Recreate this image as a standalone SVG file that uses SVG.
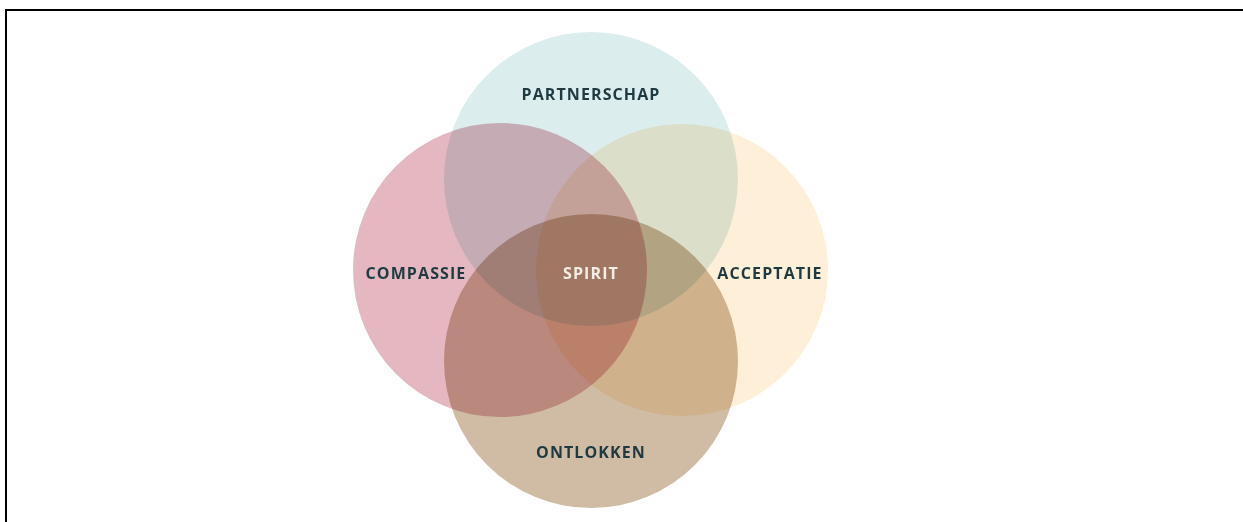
<svg xmlns="http://www.w3.org/2000/svg" width="1243" height="522" viewBox="0 0 1243 522">
<style>
.c{mix-blend-mode:multiply}
.t{font-family:"Open Sans","Liberation Sans",sans-serif;font-weight:700;font-size:16px;letter-spacing:1.1px;fill:#1e3a40;text-anchor:middle}
.s{fill:#f4ede6}
</style>
<rect width="1243" height="522" fill="#ffffff"/>
<g id="frame">
<line x1="5" y1="10" x2="1243" y2="10" stroke="#000" stroke-width="2"/>
<line x1="6" y1="9" x2="6" y2="522" stroke="#000" stroke-width="2"/>
</g>
<g style="isolation:isolate">
<g id="partnerschap"><circle class="c" cx="591" cy="179" r="147" fill="#dcedee"/></g>
<g id="compassie"><circle class="c" cx="500" cy="270" r="147" fill="#e5b8c1"/></g>
<g id="acceptatie"><circle class="c" cx="682" cy="270" r="146" fill="#fef0d8"/></g>
<g id="ontlokken"><circle class="c" cx="591" cy="361" r="147" fill="#d0bca5"/></g>
</g>
<g id="labels">
<text class="t" x="591" y="100">PARTNERSCHAP</text>
<text class="t" x="416" y="279">COMPASSIE</text>
<text class="t s" x="591" y="279">SPIRIT</text>
<text class="t" x="770" y="279">ACCEPTATIE</text>
<text class="t" x="591" y="458">ONTLOKKEN</text>
</g>
</svg>
